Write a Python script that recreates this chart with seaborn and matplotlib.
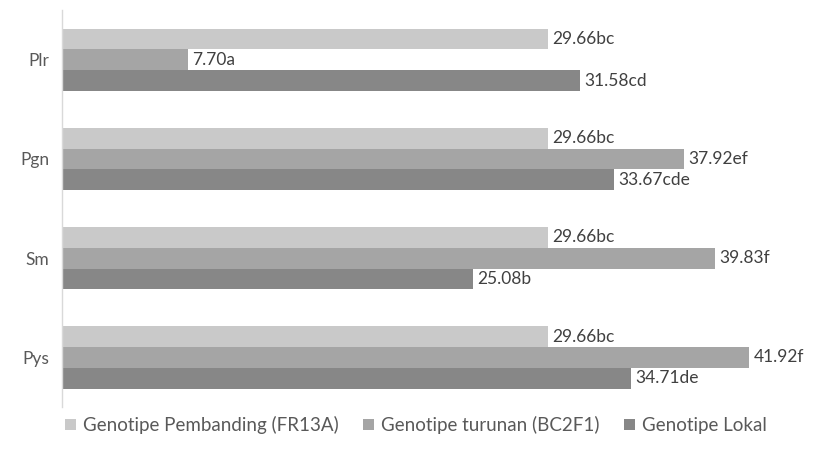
import numpy as np
import pandas as pd
import matplotlib
matplotlib.use("Agg")
import matplotlib.pyplot as plt
import seaborn as sns

# data
categories = ["Plr", "Pgn", "Sm", "Pys"]
series = ["Genotipe Pembanding (FR13A)", "Genotipe turunan (BC2F1)", "Genotipe Lokal"]
pembanding = [29.66, 29.66, 29.66, 29.66]
turunan = [7.70, 37.92, 39.83, 41.92]
lokal = [31.58, 33.67, 25.08, 34.71]
notes_pembanding = ["bc", "bc", "bc", "bc"]
notes_turunan = ["a", "ef", "f", "f"]
notes_lokal = ["cd", "cde", "b", "de"]

colors = ["#c9c9c9", "#a5a5a5", "#878787"]

rows = []
for name, vals in zip(series, [pembanding, turunan, lokal]):
    for c, v in zip(categories, vals):
        rows.append({"kategori": c, "genotipe": name, "nilai": v})
df = pd.DataFrame(rows)

sns.set_style("white")
plt.rcParams["font.family"] = ["Lato", "DejaVu Sans"]

fig = plt.figure(figsize=(8.2, 4.63), dpi=100)
ax = fig.add_axes([0.0756, 0.121, 0.9, 0.857])
sns.barplot(data=df, y="kategori", x="nilai", hue="genotipe", order=categories,
            hue_order=series, palette=colors, orient="h", width=0.63,
            saturation=1, errorbar=None, linewidth=0, edgecolor="none", ax=ax)

for cont, vals, notes in zip(ax.containers, [pembanding, turunan, lokal],
                             [notes_pembanding, notes_turunan, notes_lokal]):
    labs = [f"{v:.2f}{n}" for v, n in zip(vals, notes)]
    ax.bar_label(cont, labels=labs, padding=3, fontsize=12.5, color="#404040",
                 bbox=dict(facecolor="white", edgecolor="none", pad=0.5))

ax.set_xlim(0, 45)
ax.set_ylim(3.5, -0.5)
ax.set_xlabel("")
ax.set_ylabel("")
ax.set_xticks([])
for s in ["top", "right", "bottom"]:
    ax.spines[s].set_visible(False)
ax.spines["left"].set_color("#d9d9d9")
ax.spines["left"].set_linewidth(1)
ax.tick_params(axis="y", length=0, pad=9, labelsize=12.5, labelcolor="#595959")

handles, labels = ax.get_legend_handles_labels()
ax.get_legend().remove()
leg = fig.legend(handles, labels, loc="center", bbox_to_anchor=(0.507, 0.082), ncol=3,
                 frameon=False, fontsize=13.5, handlelength=0.6, handleheight=0.6,
                 handletextpad=0.35, columnspacing=1.3)
for t in leg.get_texts():
    t.set_color("#595959")

fig.savefig("out.png", dpi=100)
